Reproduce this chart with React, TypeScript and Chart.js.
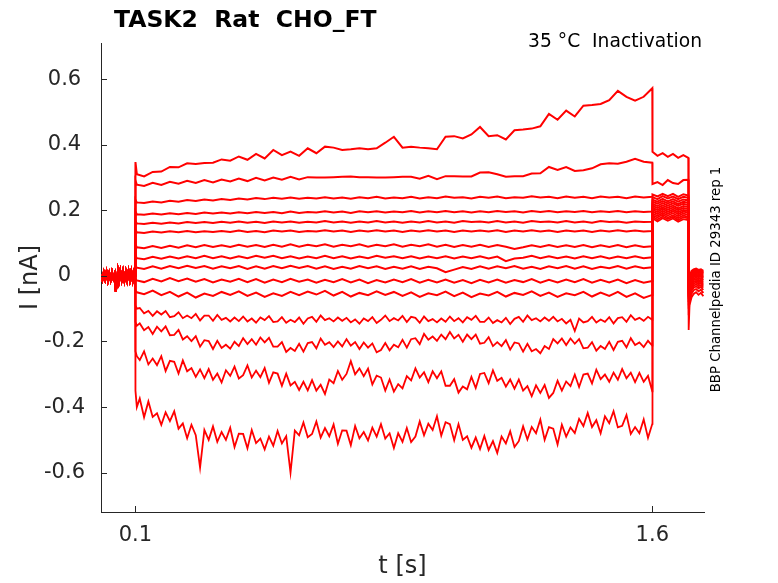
import { useEffect, useRef } from 'react';
import { Chart, registerables } from 'chart.js';

Chart.register(...registerables);

const TITLE = 'TASK2  Rat  CHO_FT';
const CONDITION = '35 °C  Inactivation';
const SOURCE = 'BBP Channelpedia ID 29343 rep 1';
const X_LABEL = 't [s]';
const Y_LABEL = 'I [nA]';
const X_TICKS = [0.1, 1.6];
const Y_TICKS = [-0.6, -0.4, -0.2, 0, 0.2, 0.4, 0.6];

// holding baseline before the step
const BASE_T = [0, 0.004, 0.008, 0.012, 0.016, 0.02, 0.024, 0.028, 0.032, 0.036, 0.04, 0.043, 0.046, 0.049, 0.052, 0.056, 0.06, 0.064, 0.068, 0.072, 0.076, 0.08, 0.084, 0.088, 0.092, 0.096, 0.0995];
const BASE_V = [0.004, -0.012, 0.01, -0.01, 0.012, -0.014, 0.008, -0.012, 0.011, -0.008, 0.006, -0.048, -0.02, 0.012, -0.015, 0.014, -0.012, 0.013, -0.014, 0.012, -0.013, 0.014, -0.012, 0.013, -0.014, 0.012, 0.0];

// test step 0.1 s .. 1.6 s, coarse sampling (quiet sweeps)
const STEP_T = [
  0.1, 0.104, 0.125, 0.15, 0.175, 0.2, 0.225, 0.25, 0.275, 0.3, 0.325, 0.35,
  0.375, 0.4, 0.425, 0.45, 0.475, 0.5, 0.525, 0.55, 0.575, 0.6,
  0.625, 0.65, 0.675, 0.7, 0.725, 0.75, 0.775, 0.8, 0.825, 0.85,
  0.875, 0.9, 0.925, 0.95, 0.975, 1.0, 1.025, 1.05, 1.075, 1.1,
  1.125, 1.15, 1.175, 1.2, 1.225, 1.25, 1.275, 1.3, 1.325, 1.35,
  1.375, 1.4, 1.425, 1.45, 1.475, 1.5, 1.525, 1.55, 1.575, 1.6,
];

// test step, finer sampling (noisy sweeps)
const FINE_T = [
  0.1, 0.104,
  0.1125, 0.125, 0.1375, 0.15, 0.1625, 0.175, 0.1875, 0.2,
  0.2125, 0.225, 0.2375, 0.25, 0.2625, 0.275, 0.2875, 0.3,
  0.3125, 0.325, 0.3375, 0.35, 0.3625, 0.375, 0.3875, 0.4,
  0.4125, 0.425, 0.4375, 0.45, 0.4625, 0.475, 0.4875, 0.5,
  0.5125, 0.525, 0.5375, 0.55, 0.5625, 0.575, 0.5875, 0.6,
  0.6125, 0.625, 0.6375, 0.65, 0.6625, 0.675, 0.6875, 0.7,
  0.7125, 0.725, 0.7375, 0.75, 0.7625, 0.775, 0.7875, 0.8,
  0.8125, 0.825, 0.8375, 0.85, 0.8625, 0.875, 0.8875, 0.9,
  0.9125, 0.925, 0.9375, 0.95, 0.9625, 0.975, 0.9875, 1.0,
  1.0125, 1.025, 1.0375, 1.05, 1.0625, 1.075, 1.0875, 1.1,
  1.1125, 1.125, 1.1375, 1.15, 1.1625, 1.175, 1.1875, 1.2,
  1.2125, 1.225, 1.2375, 1.25, 1.2625, 1.275, 1.2875, 1.3,
  1.3125, 1.325, 1.3375, 1.35, 1.3625, 1.375, 1.3875, 1.4,
  1.4125, 1.425, 1.4375, 1.45, 1.4625, 1.475, 1.4875, 1.5,
  1.5125, 1.525, 1.5375, 1.55, 1.5625, 1.575, 1.5875, 1.6,
];

const step01 = [0.347, 0.31,
  0.303, 0.317, 0.318, 0.332, 0.331, 0.343, 0.341, 0.344, 0.345, 0.355,
  0.351, 0.364, 0.354, 0.372, 0.358, 0.384, 0.368, 0.379, 0.366, 0.389,
  0.374, 0.394, 0.391, 0.384, 0.386, 0.389, 0.386, 0.389, 0.406, 0.424,
  0.391, 0.394, 0.391, 0.389, 0.386, 0.424, 0.426, 0.419, 0.431, 0.454,
  0.426, 0.429, 0.416, 0.444, 0.446, 0.449, 0.456, 0.494, 0.476, 0.504,
  0.486, 0.519, 0.521, 0.524, 0.536, 0.564, 0.546, 0.534, 0.546, 0.572];
const step02 = [0.29, 0.278,
  0.274, 0.284, 0.277, 0.287, 0.281, 0.29, 0.283, 0.292, 0.285, 0.294,
  0.288, 0.297, 0.289, 0.299, 0.291, 0.3, 0.293, 0.302, 0.294, 0.301,
  0.3, 0.3, 0.301, 0.302, 0.303, 0.301, 0.301, 0.3, 0.3, 0.301,
  0.302, 0.302, 0.296, 0.305, 0.295, 0.304, 0.304, 0.303, 0.303, 0.315,
  0.316, 0.31, 0.302, 0.304, 0.304, 0.312, 0.313, 0.332, 0.323, 0.332,
  0.32, 0.322, 0.328, 0.34, 0.343, 0.342, 0.348, 0.357, 0.348, 0.345];
const step03 = [0.232, 0.224,
  0.222, 0.227, 0.224, 0.229, 0.226, 0.231, 0.228, 0.233, 0.23, 0.234,
  0.231, 0.236, 0.233, 0.237, 0.234, 0.238, 0.235, 0.239, 0.235, 0.238,
  0.236, 0.24, 0.236, 0.239, 0.235, 0.24, 0.237, 0.241, 0.236, 0.239,
  0.237, 0.241, 0.236, 0.24, 0.237, 0.242, 0.238, 0.24, 0.236, 0.241,
  0.238, 0.242, 0.237, 0.24, 0.238, 0.243, 0.239, 0.241, 0.237, 0.242,
  0.238, 0.241, 0.237, 0.242, 0.239, 0.241, 0.237, 0.242, 0.239, 0.241];
const step04 = [0.196, 0.188,
  0.186, 0.19, 0.187, 0.191, 0.188, 0.192, 0.189, 0.193, 0.19, 0.193,
  0.19, 0.194, 0.191, 0.195, 0.192, 0.195, 0.191, 0.196, 0.192, 0.195,
  0.193, 0.197, 0.193, 0.196, 0.192, 0.197, 0.194, 0.197, 0.193, 0.196,
  0.194, 0.198, 0.193, 0.197, 0.194, 0.198, 0.194, 0.197, 0.193, 0.197,
  0.194, 0.198, 0.195, 0.197, 0.193, 0.198, 0.195, 0.198, 0.194, 0.197,
  0.195, 0.198, 0.194, 0.197, 0.195, 0.198, 0.194, 0.197, 0.195, 0.196];
const step05 = [0.168, 0.16,
  0.158, 0.162, 0.159, 0.163, 0.16, 0.164, 0.161, 0.164, 0.161, 0.165,
  0.162, 0.166, 0.162, 0.165, 0.161, 0.166, 0.163, 0.166, 0.162, 0.165,
  0.163, 0.167, 0.163, 0.166, 0.162, 0.166, 0.163, 0.167, 0.163, 0.166,
  0.162, 0.166, 0.163, 0.167, 0.163, 0.166, 0.162, 0.167, 0.164, 0.166,
  0.163, 0.167, 0.163, 0.166, 0.162, 0.167, 0.164, 0.166, 0.163, 0.167,
  0.163, 0.166, 0.162, 0.167, 0.164, 0.166, 0.162, 0.166, 0.164, 0.165];
const step06 = [0.14, 0.133,
  0.131, 0.135, 0.132, 0.136, 0.133, 0.137, 0.133, 0.136, 0.134, 0.137,
  0.134, 0.138, 0.134, 0.137, 0.133, 0.138, 0.135, 0.138, 0.134, 0.137,
  0.135, 0.139, 0.135, 0.138, 0.134, 0.138, 0.135, 0.139, 0.135, 0.138,
  0.134, 0.138, 0.135, 0.139, 0.135, 0.138, 0.134, 0.138, 0.135, 0.138,
  0.135, 0.139, 0.134, 0.138, 0.135, 0.139, 0.135, 0.138, 0.134, 0.138,
  0.135, 0.138, 0.134, 0.138, 0.135, 0.139, 0.135, 0.138, 0.135, 0.137];
const step07 = [0.095, 0.087,
  0.084, 0.091, 0.085, 0.092, 0.086, 0.093, 0.087, 0.094, 0.088, 0.093,
  0.088, 0.095, 0.089, 0.094, 0.088, 0.095, 0.089, 0.096, 0.089, 0.095,
  0.09, 0.096, 0.089, 0.095, 0.09, 0.096, 0.089, 0.095, 0.09, 0.096,
  0.089, 0.095, 0.09, 0.096, 0.089, 0.095, 0.088, 0.094, 0.089, 0.095,
  0.088, 0.094, 0.089, 0.082, 0.087, 0.093, 0.088, 0.094, 0.088, 0.093,
  0.088, 0.094, 0.087, 0.093, 0.088, 0.094, 0.087, 0.093, 0.088, 0.09];
const step08 = [0.062, 0.054,
  0.051, 0.058, 0.052, 0.059, 0.053, 0.06, 0.054, 0.061, 0.054, 0.06,
  0.053, 0.06, 0.054, 0.061, 0.055, 0.061, 0.054, 0.06, 0.053, 0.059,
  0.054, 0.061, 0.054, 0.06, 0.053, 0.059, 0.054, 0.061, 0.055, 0.06,
  0.054, 0.06, 0.053, 0.059, 0.054, 0.06, 0.053, 0.059, 0.054, 0.06,
  0.053, 0.059, 0.045, 0.053, 0.055, 0.061, 0.054, 0.06, 0.054, 0.059,
  0.053, 0.06, 0.054, 0.06, 0.053, 0.059, 0.054, 0.06, 0.054, 0.057];
const step09 = [0.032, 0.025,
  0.021, 0.029, 0.022, 0.03, 0.023, 0.031, 0.024, 0.03, 0.022, 0.029,
  0.023, 0.03, 0.021, 0.029, 0.022, 0.03, 0.023, 0.031, 0.024, 0.03,
  0.022, 0.029, 0.021, 0.028, 0.022, 0.03, 0.023, 0.029, 0.021, 0.028,
  0.022, 0.029, 0.021, 0.028, 0.023, 0.011, 0.019, 0.027, 0.021, 0.029,
  0.022, 0.029, 0.023, 0.03, 0.022, 0.028, 0.021, 0.029, 0.023, 0.03,
  0.022, 0.029, 0.021, 0.028, 0.023, 0.03, 0.022, 0.029, 0.023, 0.026];
const step10 = [-0.008, -0.014,
  -0.019, -0.009, -0.017, -0.007, -0.016, -0.008, -0.018, -0.01, -0.02, -0.011,
  -0.018, -0.009, -0.019, -0.01, -0.021, -0.011, -0.019, -0.009, -0.018, -0.011,
  -0.021, -0.012, -0.019, -0.01, -0.02, -0.011, -0.022, -0.013, -0.02, -0.011,
  -0.019, -0.01, -0.021, -0.012, -0.02, -0.011, -0.021, -0.013, -0.022, -0.012,
  -0.02, -0.011, -0.021, -0.013, -0.019, -0.01, -0.021, -0.012, -0.02, -0.011,
  -0.019, -0.01, -0.021, -0.012, -0.02, -0.011, -0.022, -0.013, -0.021, -0.016];
const step11 = [-0.045, -0.05,
  -0.056, -0.045, -0.059, -0.049, -0.063, -0.051, -0.066, -0.054, -0.061, -0.049,
  -0.058, -0.047, -0.061, -0.051, -0.064, -0.053, -0.061, -0.049, -0.059, -0.048,
  -0.057, -0.046, -0.06, -0.049, -0.063, -0.052, -0.059, -0.047, -0.058, -0.049,
  -0.061, -0.05, -0.064, -0.053, -0.059, -0.048, -0.062, -0.051, -0.065, -0.054,
  -0.06, -0.049, -0.063, -0.052, -0.058, -0.047, -0.061, -0.051, -0.064, -0.053,
  -0.059, -0.049, -0.063, -0.051, -0.061, -0.049, -0.064, -0.053, -0.067, -0.058];
const step12 = [-0.09, -0.1,
  -0.098, -0.114, -0.107, -0.122, -0.108, -0.118, -0.107, -0.126,
  -0.123, -0.111, -0.129, -0.121, -0.129, -0.116, -0.136, -0.121,
  -0.121, -0.137, -0.119, -0.134, -0.128, -0.139, -0.127, -0.138,
  -0.124, -0.139, -0.13, -0.143, -0.127, -0.135, -0.123, -0.141,
  -0.139, -0.126, -0.143, -0.134, -0.141, -0.127, -0.146, -0.13,
  -0.125, -0.14, -0.121, -0.135, -0.129, -0.139, -0.127, -0.137,
  -0.128, -0.142, -0.133, -0.146, -0.13, -0.138, -0.126, -0.144,
  -0.134, -0.121, -0.138, -0.129, -0.136, -0.122, -0.141, -0.125,
  -0.128, -0.143, -0.124, -0.138, -0.132, -0.142, -0.13, -0.14,
  -0.124, -0.138, -0.129, -0.142, -0.126, -0.134, -0.122, -0.14,
  -0.14, -0.127, -0.144, -0.135, -0.142, -0.128, -0.147, -0.131,
  -0.125, -0.14, -0.121, -0.135, -0.129, -0.139, -0.127, -0.137,
  -0.125, -0.139, -0.131, -0.145, -0.134, -0.168, -0.13, -0.142,
  -0.138, -0.125, -0.142, -0.133, -0.14, -0.126, -0.145, -0.129,
  -0.126, -0.14, -0.12, -0.134, -0.128, -0.137, -0.125, -0.134];
const step13 = [-0.14, -0.152,
  -0.145, -0.166, -0.156, -0.177, -0.155, -0.169, -0.154, -0.181,
  -0.18, -0.165, -0.194, -0.184, -0.199, -0.184, -0.216, -0.196,
  -0.199, -0.223, -0.198, -0.22, -0.21, -0.222, -0.201, -0.214,
  -0.19, -0.208, -0.193, -0.21, -0.188, -0.203, -0.189, -0.216,
  -0.216, -0.202, -0.232, -0.22, -0.229, -0.207, -0.231, -0.205,
  -0.202, -0.221, -0.191, -0.21, -0.202, -0.217, -0.2, -0.215,
  -0.193, -0.213, -0.202, -0.223, -0.203, -0.219, -0.206, -0.233,
  -0.226, -0.205, -0.227, -0.21, -0.218, -0.195, -0.219, -0.193,
  -0.19, -0.208, -0.177, -0.195, -0.185, -0.198, -0.179, -0.193,
  -0.171, -0.191, -0.18, -0.201, -0.179, -0.193, -0.179, -0.207,
  -0.204, -0.187, -0.214, -0.202, -0.214, -0.196, -0.225, -0.203,
  -0.206, -0.231, -0.207, -0.23, -0.223, -0.236, -0.214, -0.223,
  -0.193, -0.206, -0.191, -0.211, -0.191, -0.207, -0.193, -0.221,
  -0.219, -0.202, -0.228, -0.214, -0.223, -0.201, -0.226, -0.201,
  -0.198, -0.218, -0.19, -0.211, -0.203, -0.217, -0.198, -0.213];
const step14 = [-0.23, -0.245,
  -0.257, -0.23, -0.27, -0.252, -0.272, -0.245, -0.29, -0.259,
  -0.262, -0.298, -0.258, -0.291, -0.281, -0.308, -0.285, -0.312,
  -0.284, -0.317, -0.298, -0.325, -0.288, -0.305, -0.277, -0.313,
  -0.303, -0.273, -0.31, -0.289, -0.309, -0.281, -0.326, -0.294,
  -0.298, -0.335, -0.298, -0.334, -0.323, -0.348, -0.323, -0.349,
  -0.318, -0.35, -0.332, -0.36, -0.316, -0.327, -0.29, -0.317,
  -0.299, -0.26, -0.3, -0.282, -0.306, -0.283, -0.331, -0.304,
  -0.31, -0.35, -0.316, -0.353, -0.33, -0.343, -0.306, -0.319,
  -0.282, -0.31, -0.294, -0.324, -0.291, -0.312, -0.291, -0.335,
  -0.335, -0.315, -0.356, -0.337, -0.346, -0.308, -0.342, -0.299,
  -0.296, -0.327, -0.288, -0.32, -0.311, -0.338, -0.316, -0.344,
  -0.316, -0.35, -0.336, -0.367, -0.334, -0.357, -0.333, -0.372,
  -0.357, -0.32, -0.35, -0.322, -0.336, -0.301, -0.339, -0.301,
  -0.298, -0.328, -0.286, -0.315, -0.301, -0.323, -0.295, -0.317,
  -0.284, -0.312, -0.295, -0.324, -0.296, -0.323, -0.305, -0.352];
const step15 = [-0.35, -0.4,
  -0.374, -0.431, -0.383, -0.43, -0.419, -0.454, -0.416, -0.443,
  -0.413, -0.466, -0.45, -0.495, -0.454, -0.486, -0.585, -0.47,
  -0.5, -0.459, -0.506, -0.476, -0.5, -0.463, -0.522, -0.481,
  -0.482, -0.526, -0.47, -0.51, -0.496, -0.529, -0.49, -0.518,
  -0.473, -0.511, -0.489, -0.6, -0.472, -0.486, -0.447, -0.492,
  -0.482, -0.444, -0.493, -0.464, -0.489, -0.453, -0.512, -0.471,
  -0.472, -0.516, -0.458, -0.495, -0.476, -0.502, -0.463, -0.49,
  -0.452, -0.496, -0.48, -0.525, -0.48, -0.506, -0.464, -0.507,
  -0.49, -0.444, -0.486, -0.451, -0.47, -0.428, -0.487, -0.446,
  -0.452, -0.501, -0.452, -0.5, -0.489, -0.524, -0.493, -0.528,
  -0.488, -0.531, -0.504, -0.54, -0.49, -0.511, -0.474, -0.522,
  -0.504, -0.459, -0.499, -0.461, -0.48, -0.438, -0.5, -0.461,
  -0.466, -0.514, -0.454, -0.49, -0.462, -0.479, -0.436, -0.458,
  -0.418, -0.461, -0.44, -0.48, -0.428, -0.449, -0.413, -0.462,
  -0.457, -0.424, -0.482, -0.461, -0.48, -0.438, -0.494, -0.451];

const STEPS = [step01, step02, step03, step04, step05, step06, step07, step08, step09, step10, step11, step12, step13, step14, step15];
const STEP_TIMES = [STEP_T, STEP_T, STEP_T, STEP_T, STEP_T, STEP_T, STEP_T, STEP_T, STEP_T, STEP_T, STEP_T, FINE_T, FINE_T, FINE_T, FINE_T];

// tail after the step (1.6 .. 1.705 s)
const TAIL_T = [1.6005, 1.615, 1.63, 1.645, 1.66, 1.675, 1.69, 1.7045];
const TAIL_V = [
  [0.378, 0.366, 0.374, 0.363, 0.372, 0.36, 0.368, 0.36],
  [0.28, 0.286, 0.277, 0.292, 0.283, 0.28, 0.292, 0.293],
  [0.248, 0.242, 0.25, 0.243, 0.25, 0.241, 0.249, 0.245],
  [0.24, 0.234, 0.243, 0.236, 0.242, 0.234, 0.241, 0.238],
  [0.232, 0.226, 0.235, 0.227, 0.234, 0.226, 0.233, 0.23],
  [0.226, 0.22, 0.228, 0.221, 0.227, 0.219, 0.226, 0.223],
  [0.219, 0.213, 0.222, 0.214, 0.221, 0.213, 0.22, 0.216],
  [0.213, 0.207, 0.215, 0.208, 0.214, 0.206, 0.213, 0.21],
  [0.207, 0.201, 0.209, 0.202, 0.208, 0.2, 0.207, 0.204],
  [0.201, 0.195, 0.204, 0.196, 0.202, 0.194, 0.201, 0.198],
  [0.196, 0.189, 0.198, 0.19, 0.197, 0.188, 0.196, 0.192],
  [0.19, 0.183, 0.192, 0.184, 0.191, 0.182, 0.19, 0.186],
  [0.185, 0.178, 0.187, 0.178, 0.185, 0.176, 0.184, 0.18],
  [0.18, 0.172, 0.181, 0.173, 0.18, 0.17, 0.179, 0.175],
  [0.176, 0.166, 0.176, 0.168, 0.175, 0.165, 0.173, 0.17],
];

// return to holding (1.705 .. 1.75 s)
const POST_T = [1.7055, 1.708, 1.714, 1.72, 1.727, 1.734, 1.741, 1.748];
const POST_V = [
  [-0.02, 0.0, 0.015, 0.02, 0.022, 0.018, 0.02, 0.015],
  [-0.03, -0.005, 0.01, 0.018, 0.02, 0.015, 0.018, 0.012],
  [-0.035, -0.01, 0.005, 0.014, 0.016, 0.012, 0.015, 0.008],
  [-0.04, -0.015, 0.0, 0.01, 0.012, 0.008, 0.01, 0.004],
  [-0.045, -0.02, -0.005, 0.006, 0.008, 0.004, 0.006, 0.0],
  [-0.05, -0.025, -0.01, 0.002, 0.004, 0.0, 0.002, -0.004],
  [-0.055, -0.03, -0.015, -0.002, 0.0, -0.004, -0.002, -0.008],
  [-0.06, -0.035, -0.02, -0.008, -0.005, -0.01, -0.007, -0.013],
  [-0.065, -0.04, -0.025, -0.013, -0.01, -0.015, -0.012, -0.018],
  [-0.07, -0.045, -0.03, -0.018, -0.015, -0.02, -0.017, -0.024],
  [-0.08, -0.05, -0.035, -0.024, -0.02, -0.026, -0.022, -0.03],
  [-0.09, -0.055, -0.04, -0.03, -0.026, -0.032, -0.028, -0.036],
  [-0.1, -0.065, -0.045, -0.036, -0.032, -0.038, -0.034, -0.043],
  [-0.12, -0.075, -0.055, -0.044, -0.04, -0.047, -0.042, -0.052],
  [-0.165, -0.09, -0.065, -0.055, -0.05, -0.058, -0.052, -0.062],
];

const FONT = '"DejaVu Sans", "Liberation Sans", sans-serif';
const AXIS_COLOR = '#262626';
const LINE_COLOR = '#ff0000';

const decorPlugin = {
  id: 'decor',
  afterDraw(chart: any) {
    const { ctx, chartArea, scales } = chart;
    const { left, right, top, bottom } = chartArea;
    ctx.save();
    ctx.strokeStyle = AXIS_COLOR;
    ctx.lineWidth = 1;
    // inward tick marks
    scales.y.ticks.forEach((t: any) => {
      const py = Math.round(scales.y.getPixelForValue(t.value)) + 0.5;
      ctx.beginPath();
      ctx.moveTo(left, py);
      ctx.lineTo(left + 6, py);
      ctx.stroke();
    });
    scales.x.ticks.forEach((t: any) => {
      const px = Math.round(scales.x.getPixelForValue(t.value)) + 0.5;
      ctx.beginPath();
      ctx.moveTo(px, bottom);
      ctx.lineTo(px, bottom - 6);
      ctx.stroke();
    });
    // title
    ctx.fillStyle = '#000000';
    ctx.textBaseline = 'alphabetic';
    ctx.textAlign = 'left';
    ctx.font = `bold 23.5px ${FONT}`;
    ctx.fillText(TITLE, left + 13, top - 16);
    // condition label
    ctx.textAlign = 'right';
    ctx.font = `18.7px ${FONT}`;
    ctx.fillText(CONDITION, right - 2, top + 4);
    // vertical source label
    ctx.translate(right + 13, (top + bottom) / 2 + 2);
    ctx.rotate(-Math.PI / 2);
    ctx.textAlign = 'center';
    ctx.textBaseline = 'middle';
    ctx.font = `13.3px ${FONT}`;
    ctx.fillText(SOURCE, 0, 0);
    ctx.restore();
  },
};

export default function App() {
  const ref = useRef<HTMLCanvasElement>(null);

  useEffect(() => {
    document.body.style.margin = '0';
    const canvas = ref.current;
    if (!canvas) return;

    const datasets = STEPS.map((vals, k) => ({
      label: `sweep ${k + 1}`,
      data: [
        ...BASE_T.map((t, i) => ({ x: t, y: BASE_V[i] })),
        ...STEP_TIMES[k].map((t, i) => ({ x: t, y: vals[i] })),
        ...TAIL_T.map((t, i) => ({ x: t, y: TAIL_V[k][i] })),
        ...POST_T.map((t, i) => ({ x: t, y: POST_V[k][i] })),
      ],
      borderColor: LINE_COLOR,
      borderWidth: STEP_TIMES[k] === FINE_T ? 1.8 : 2,
      pointRadius: 0,
      tension: 0,
      fill: false,
    }));

    const chart = new Chart(canvas, {
      type: 'line',
      data: { datasets },
      options: {
        animation: false,
        responsive: false,
        devicePixelRatio: 1,
        layout: { padding: { left: 0, top: 43, right: 74, bottom: 0 } },
        plugins: {
          legend: { display: false },
          tooltip: { enabled: false },
          title: { display: false },
        },
        scales: {
          x: {
            type: 'linear',
            min: 0,
            max: 1.75,
            afterBuildTicks: (scale: any) => {
              scale.ticks = X_TICKS.map((v) => ({ value: v }));
            },
            afterFit: (scale: any) => {
              scale.height = 71;
            },
            ticks: {
              autoSkip: false,
              maxRotation: 0,
              padding: 11,
              color: AXIS_COLOR,
              font: { family: FONT, size: 21 },
              callback: (v: any) => Number(v).toFixed(1),
            },
            grid: { display: false, drawTicks: false },
            border: { display: true, color: AXIS_COLOR, width: 1 },
            title: {
              display: true,
              text: X_LABEL,
              color: AXIS_COLOR,
              font: { family: FONT, size: 24 },
              padding: { top: 0, bottom: 2 },
            },
          },
          y: {
            type: 'linear',
            min: -0.72,
            max: 0.71,
            afterBuildTicks: (scale: any) => {
              scale.ticks = Y_TICKS.map((v) => ({ value: v }));
            },
            afterFit: (scale: any) => {
              scale.width = 101;
            },
            ticks: {
              autoSkip: false,
              crossAlign: 'center',
              padding: 16,
              color: AXIS_COLOR,
              font: { family: FONT, size: 21 },
              callback: (v: any) => (Math.abs(Number(v)) < 1e-9 ? '0' : Number(v).toFixed(1)),
            },
            grid: { display: false, drawTicks: false },
            border: { display: true, color: AXIS_COLOR, width: 1 },
            title: {
              display: true,
              text: Y_LABEL,
              color: AXIS_COLOR,
              font: { family: FONT, size: 24 },
              padding: { top: 16, bottom: 0 },
            },
          },
        },
      },
      plugins: [decorPlugin],
    } as any);

    return () => chart.destroy();
  }, []);

  return (
    <div style={{ width: 778, height: 583, position: 'relative' }}>
      <canvas ref={ref} width={778} height={583} style={{ display: 'block', width: 778, height: 583 }} />
    </div>
  );
}
